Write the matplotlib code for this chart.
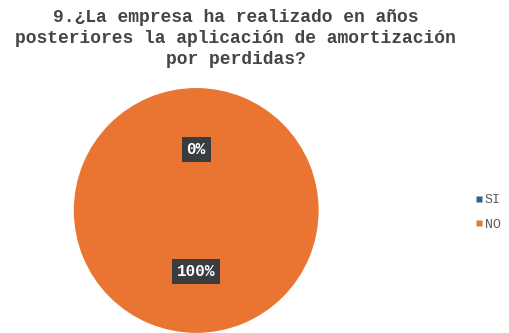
import matplotlib
matplotlib.use("Agg")
import matplotlib.pyplot as plt
from matplotlib.lines import Line2D

categories = ["SI", "NO"]
values = [0, 100]
colors = ["#2E6195", "#EA7431"]
title = ("9.¿La empresa ha realizado en años\n"
         "posteriores la aplicación de amortización\n"
         "por perdidas?")

mono = ["Liberation Mono", "DejaVu Sans Mono"]

fig = plt.figure(figsize=(5.09, 3.33), dpi=100)
fig.patch.set_facecolor("white")

ax = fig.add_axes([0.145, 0.0, 0.481, 0.736])
wedges, texts, autotexts = ax.pie(
    values,
    colors=colors,
    startangle=90,
    counterclock=False,
    autopct="%1.0f%%",
    pctdistance=0.5,
    wedgeprops=dict(linewidth=0),
    textprops=dict(color="white", fontsize=11.5, fontweight="bold", family=mono),
)
for t in autotexts:
    t.set_bbox(dict(boxstyle="square,pad=0.3", facecolor="#3A3D40", edgecolor="none"))
ax.set_xlim(-1, 1)
ax.set_ylim(-1, 1)

fig.text(0.463, 0.972, title, ha="center", va="top", fontsize=13,
         fontweight="bold", color="#454545", family=mono, linespacing=1.3)

handles = [Line2D([], [], marker="s", linestyle="none", markersize=5,
                  markerfacecolor=c, markeredgecolor="none") for c in colors]
fig.legend(handles, categories, loc="center left",
           bbox_to_anchor=(0.933, 0.362), frameon=False,
           prop=dict(family=mono, size=9.5), labelcolor="#595959",
           handlelength=0.6, handletextpad=0.15, labelspacing=0.95,
           borderpad=0, borderaxespad=0)

fig.savefig("out.png", dpi=100, facecolor="white")
